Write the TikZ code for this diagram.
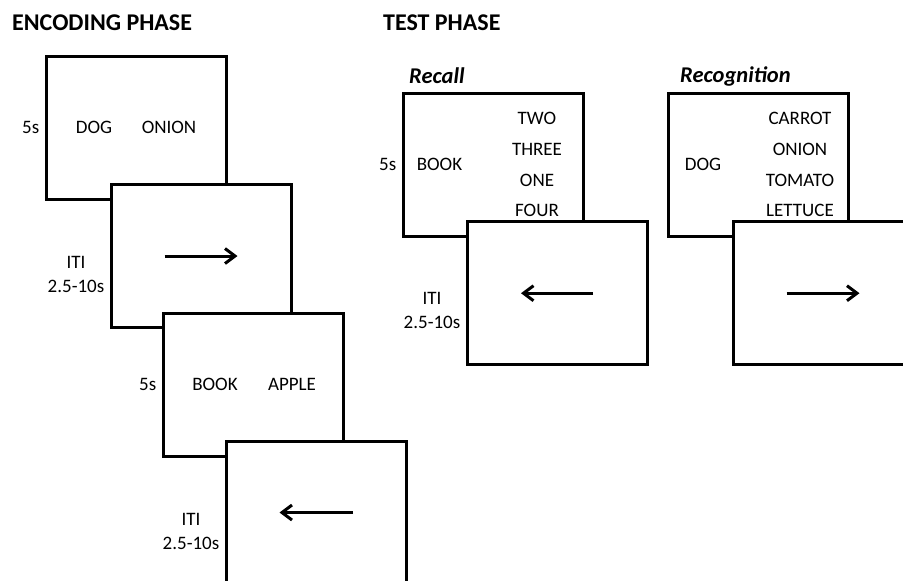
\documentclass[tikz,border=0pt]{standalone}
\usepackage{fontspec}
\setmainfont{Carlito}
\usetikzlibrary{positioning,arrows.meta}

\begin{document}
\begin{tikzpicture}[x=1pt, y=-1pt,
  screen/.style={draw, fill=white, line width=3pt, minimum width=180pt,
    minimum height=143pt, inner sep=0pt},
  word/.style={inner sep=0pt, align=center, font=\fontsize{19}{30.7}\selectfont},
  lbl/.style={inner sep=0pt, align=center, font=\fontsize{19}{24}\selectfont},
  phase/.style={inner sep=0pt, anchor=west, font=\fontsize{24}{28}\selectfont\bfseries},
  task/.style={inner sep=0pt, anchor=west, font=\fontsize{22.5}{26}\selectfont\bfseries\itshape},
  cue/.style={line width=3pt, -{Straight Barb[length=10pt,width=15pt]}}]

  \useasboundingbox (0,0) rectangle (903,581);

  % Headings
  \node[phase] (enc) at (12,23)  {ENCODING PHASE};
  \node[phase] (tst) at (383,23) {TEST PHASE};
  \node[task]  (rcl) at (409,76) {Recall};
  \node[task]  (rcg) at (680,76) {Recognition};

  % Encoding screens
  \node[screen]                               (e1) at (136,127.5) {};
  \node[word, xshift=-42pt] (e1-a) at (e1) {DOG};
  \node[word, xshift=33pt]  (e1-b) at (e1) {ONION};
  \node[lbl, left=5pt of e1] (e1-t) {5s};

  \node[screen, xshift=65pt, yshift=-128.5pt] (e2) at (e1) {};
  \draw[cue] ([xshift=-36.5pt]e2.center) -- ([xshift=36.5pt]e2.center);
  \node[lbl, left=5pt of e2, yshift=-18.5pt] (e2-t) {ITI\\2.5-10s};

  \node[screen, xshift=52pt, yshift=-128.5pt] (e3) at (e2) {};
  \node[word, xshift=-38pt] (e3-a) at (e3) {BOOK};
  \node[word, xshift=39pt]  (e3-b) at (e3) {APPLE};
  \node[lbl, left=5pt of e3] (e3-t) {5s};

  \node[screen, xshift=63pt, yshift=-128pt]   (e4) at (e3) {};
  \draw[cue] ([xshift=37pt]e4.center) -- ([xshift=-36.5pt]e4.center);
  \node[lbl, left=5pt of e4, yshift=-18.5pt] (e4-t) {ITI\\2.5-10s};

  % Recall screens
  \node[screen]                               (r1) at (493,164.7) {};
  \node[word, xshift=-53.5pt] (r1-a) at (r1) {BOOK};
  \node[word, xshift=44pt]    (r1-b) at (r1) {TWO\\THREE\\ONE\\FOUR};
  \node[lbl, left=5pt of r1] (r1-t) {5s};

  \node[screen, xshift=64pt, yshift=-128.5pt] (r2) at (r1) {};
  \draw[cue] ([xshift=36pt]r2.center) -- ([xshift=-36pt]r2.center);
  \node[lbl, left=5pt of r2, yshift=-17pt] (r2-t) {ITI\\2.5-10s};

  % Recognition screens
  \node[screen]                               (c1) at (758,164.7) {};
  \node[word, xshift=-55pt] (c1-a) at (c1) {DOG};
  \node[word, xshift=42pt]  (c1-b) at (c1) {CARROT\\ONION\\TOMATO\\LETTUCE};

  \node[screen, xshift=65pt, yshift=-128.5pt] (c2) at (c1) {};
  \draw[cue] ([xshift=-36.5pt]c2.center) -- ([xshift=36.5pt]c2.center);

\end{tikzpicture}
\end{document}
